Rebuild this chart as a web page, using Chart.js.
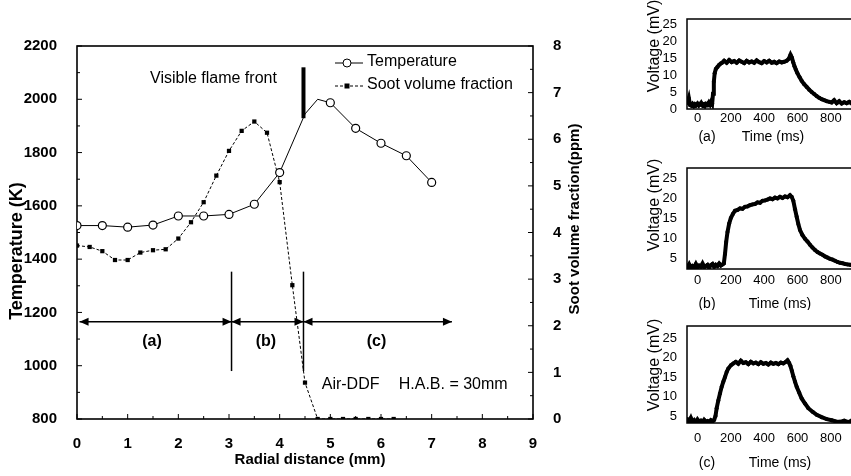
<!DOCTYPE html>
<html><head><meta charset="utf-8">
<script src="https://cdn.jsdelivr.net/npm/chart.js@4.4.0/dist/chart.umd.min.js"></script>
<style>
html,body{margin:0;padding:0;overflow:hidden;background:#fff;width:851px;height:476px;position:relative;}
canvas{position:absolute;}
</style></head><body>
<canvas id="main" width="600" height="476" style="left:0;top:0;width:600px;height:476px"></canvas>
<canvas id="insA" width="290" height="150" style="left:600px;top:0;width:290px;height:150px"></canvas>
<canvas id="insB" width="290" height="160" style="left:600px;top:150px;width:290px;height:160px"></canvas>
<canvas id="insC" width="290" height="166" style="left:600px;top:310px;width:290px;height:166px"></canvas>
<script>
// ---------- main chart data ----------
const radialTemp   = [0, 0.5, 1, 1.5, 2, 2.5, 3, 3.5, 4, 4.5, 4.75, 5, 5.5, 6, 6.5, 7];
const temperatureK = [1526, 1526, 1520, 1528, 1562, 1562, 1568, 1606, 1725, 1945, 2000, 1987, 1891, 1835, 1788, 1688];
const radialSoot   = [0, 0.25, 0.5, 0.75, 1, 1.25, 1.5, 1.75, 2, 2.25, 2.5, 2.75, 3, 3.25, 3.5, 3.75, 4, 4.25, 4.5, 4.75, 5, 5.25, 5.5, 5.75, 6, 6.25];
const sootPpm      = [3.72, 3.69, 3.60, 3.41, 3.41, 3.57, 3.62, 3.64, 3.87, 4.22, 4.65, 5.22, 5.75, 6.18, 6.38, 6.14, 5.08, 2.87, 0.78, 0, 0, 0, 0, 0, 0, 0];
const hiddenTempMarkers = [9, 10];
const flameFrontX = 4.47;
const flameFrontT = [1929, 2120];
const zoneBounds  = [0.05, 3.05, 4.47, 7.4];
const zoneArrowT  = 1165;
const zoneLineT   = [980, 1353];
const zoneLabels  = ['(a)', '(b)', '(c)'];
const zoneLabelX  = [1.48, 3.73, 5.91];
const zoneLabelT  = 1090;

// ---------- inset data (time ms, voltage mV) ----------
const timeA = [-60,-52,-45,-38,-30,-22,-15,-8,0,8,15,22,30,38,45,52,60,68,75,82,88,93,98,103,110,120,130,140,150,160,175,190,205,220,235,250,265,280,295,310,325,340,355,370,385,400,415,430,445,460,475,490,505,520,535,548,558,566,574,582,590,600,612,625,640,655,670,685,700,715,730,745,760,775,790,805,820,835,850,865,880,895,910,925,940];
const voltA = [1.8,3.2,1.2,1.0,1.5,0.9,1.4,1.1,1.6,1.0,1.3,1.8,1.1,1.4,0.9,1.5,1.2,1.9,1.3,2.2,1.6,4.5,8.0,10.5,11.8,12.4,13.0,13.4,13.7,14.2,13.6,14.4,13.8,14.1,13.6,14.3,13.9,13.5,14.2,13.7,14.0,13.6,14.3,13.8,13.5,14.1,13.7,14.2,13.6,13.9,13.5,14.0,13.7,13.9,14.2,14.8,16.0,15.2,13.8,12.6,11.6,10.5,9.4,8.3,7.3,6.5,5.7,5.0,4.4,3.8,3.3,2.9,2.6,2.3,2.1,1.9,2.6,1.7,2.3,1.6,2.0,1.7,2.1,1.6,1.9];
const timeB = [-60,-50,-40,-30,-20,-10,0,10,20,30,40,50,60,70,80,90,100,110,120,130,140,150,158,165,172,180,190,200,212,225,240,255,270,285,300,315,330,345,360,375,390,405,420,435,450,465,480,495,510,525,540,555,565,575,585,595,605,615,630,645,660,675,690,705,720,735,750,765,780,795,810,825,840,855,870,885,900,915,930];
const voltB = [2.6,3.4,2.5,3.0,2.7,3.5,2.6,3.1,2.8,3.6,2.7,3.0,3.3,2.6,3.2,3.5,2.8,3.3,3.0,3.6,3.1,3.4,3.6,6.0,9.0,11.5,13.6,15.0,16.0,16.8,17.0,17.4,17.3,17.8,17.9,18.2,18.4,18.5,18.9,18.8,19.3,19.4,19.6,19.9,19.7,20.1,19.9,20.3,20.0,20.4,20.2,20.7,20.3,19.3,17.2,15.3,13.5,12.0,10.7,9.8,9.1,8.3,7.6,7.0,6.5,6.1,5.8,5.4,5.1,4.8,4.6,4.3,4.0,3.8,3.7,3.5,3.4,3.3,3.2];
const timeC = [-60,-50,-40,-30,-20,-10,0,10,20,30,40,50,60,70,80,90,100,108,115,125,135,145,155,165,175,185,200,215,230,245,260,275,290,305,320,335,350,365,380,395,410,425,440,455,470,485,500,515,530,540,550,558,566,575,585,595,610,625,645,665,690,715,745,775,805,830,855,880,905,930];
const voltC = [4.2,3.6,4.5,3.4,3.9,3.3,4.1,3.5,3.8,3.3,4.0,3.5,3.7,3.4,3.9,3.6,4.0,5.0,7.0,9.0,10.8,12.5,13.8,15.0,16.3,17.2,18.0,18.5,18.9,18.4,19.2,18.6,18.8,18.3,18.9,18.5,18.7,18.3,18.8,18.4,18.6,18.2,18.7,18.4,18.6,18.3,18.7,18.5,18.9,19.3,18.6,17.8,16.6,15.2,13.8,12.5,11.0,9.5,8.2,7.0,6.1,5.3,4.7,4.2,3.9,3.6,3.5,3.8,3.4,4.0];

Chart.defaults.font.family = "'Liberation Sans', Arial, Helvetica, sans-serif";
Chart.defaults.color = '#000';

const FONT = "'Liberation Sans', Arial, Helvetica, sans-serif";
const plain = v => String(v);
function txt(ctx, s, x, y, font, align, rot) {
  ctx.save();
  ctx.font = font; ctx.fillStyle = '#000';
  ctx.textAlign = align || 'left'; ctx.textBaseline = 'middle';
  ctx.translate(x, y);
  if (rot) ctx.rotate(rot);
  ctx.fillText(s, 0, 0);
  ctx.restore();
}
function seg(ctx, x1, y1, x2, y2) { ctx.beginPath(); ctx.moveTo(x1, y1); ctx.lineTo(x2, y2); ctx.stroke(); }

const xy = (xs, ys) => xs.map((v, i) => ({x: v, y: ys[i]}));

const mainDecor = {
  id: 'mainDecor',
  beforeDatasetsDraw(chart) {
    const {ctx, chartArea: a, scales: {x, y, y2}} = chart;
    ctx.save();
    ctx.strokeStyle = '#000';
    ctx.lineWidth = 1.6;
    ctx.strokeRect(a.left, a.top, a.right - a.left, a.bottom - a.top);
    ctx.lineWidth = 1;
    for (let i = 0; i <= 18; i++) { const px = x.getPixelForValue(i / 2); seg(ctx, px, a.bottom, px, a.bottom - (i % 2 ? 3 : 5)); }
    for (let i = 0; i <= 14; i++) { const py = y.getPixelForValue(800 + i * 100); seg(ctx, a.left, py, a.left + (i % 2 ? 3 : 5), py); }
    for (let i = 0; i <= 16; i++) { const py = y2.getPixelForValue(i / 2); seg(ctx, a.right, py, a.right - (i % 2 ? 3 : 5), py); }
    ctx.restore();
  },
  afterDraw(chart) {
    const {ctx, chartArea: a, scales: {x, y, y2}} = chart;
    const ay = y.getPixelForValue(zoneArrowT);
    const heads = [[zoneBounds[0], -1], [zoneBounds[1], 1], [zoneBounds[1], -1], [zoneBounds[2], 1], [zoneBounds[2], -1], [zoneBounds[3], 1]];
    ctx.save(); ctx.fillStyle = '#000';
    heads.forEach(([v, d]) => {
      const px = x.getPixelForValue(v);
      ctx.beginPath(); ctx.moveTo(px, ay); ctx.lineTo(px - d * 9, ay - 4); ctx.lineTo(px - d * 9, ay + 4); ctx.closePath(); ctx.fill();
    });
    ctx.restore();
    zoneLabels.forEach((s, i) => txt(ctx, s, x.getPixelForValue(zoneLabelX[i]), y.getPixelForValue(zoneLabelT), 'bold 16px ' + FONT, 'center'));
    txt(ctx, 'Visible flame front', 150, 79, '16px ' + FONT, 'left');
    txt(ctx, 'Air-DDF', x.getPixelForValue(4.83), y2.getPixelForValue(0.74), '16px ' + FONT, 'left');
    txt(ctx, 'H.A.B. = 30mm', x.getPixelForValue(6.35), y2.getPixelForValue(0.74), '16px ' + FONT, 'left');
    ctx.save(); ctx.strokeStyle = '#000'; ctx.lineWidth = 1;
    seg(ctx, 335, 63, 363, 63);
    ctx.fillStyle = '#fff'; ctx.beginPath(); ctx.arc(347, 63, 4, 0, Math.PI * 2); ctx.fill(); ctx.stroke();
    ctx.setLineDash([3, 2]); seg(ctx, 335, 86, 363, 86); ctx.setLineDash([]);
    ctx.fillStyle = '#000'; ctx.fillRect(344.5, 83.5, 5, 5);
    ctx.restore();
    txt(ctx, 'Temperature', 367, 62, '16px ' + FONT, 'left');
    txt(ctx, 'Soot volume fraction', 367, 85, '16px ' + FONT, 'left');
    txt(ctx, 'Radial distance (mm)', 310, 460, 'bold 15px ' + FONT, 'center');
    txt(ctx, 'Temperature (K)', 17, 251, 'bold 18px ' + FONT, 'center', -Math.PI / 2);
    txt(ctx, 'Soot volume fraction(ppm)', 575, 219, 'bold 15px ' + FONT, 'center', -Math.PI / 2);
  }
};

const tickFont = {size: 15, weight: 'bold'};
new Chart(document.getElementById('main'), {
  type: 'scatter',
  data: {
    datasets: [
      {data: xy(radialTemp, temperatureK), yAxisID: 'y', showLine: true, borderColor: '#000', borderWidth: 1,
       pointRadius: c => hiddenTempMarkers.includes(c.dataIndex) ? 0 : 4, pointBackgroundColor: '#fff', pointBorderColor: '#000', pointBorderWidth: 1.2},
      {data: xy(radialSoot, sootPpm), yAxisID: 'y2', showLine: true, borderColor: '#000', borderWidth: 1, borderDash: [3, 2],
       pointStyle: 'rect', pointRadius: 3, pointBackgroundColor: '#000', pointBorderColor: '#000', pointBorderWidth: 0},
      {data: xy([flameFrontX, flameFrontX], flameFrontT), yAxisID: 'y', showLine: true, borderColor: '#000', borderWidth: 4, pointRadius: 0},
      {data: xy([zoneBounds[1], zoneBounds[1]], zoneLineT), yAxisID: 'y', showLine: true, borderColor: '#000', borderWidth: 1.5, pointRadius: 0},
      {data: xy([zoneBounds[2], zoneBounds[2]], zoneLineT), yAxisID: 'y', showLine: true, borderColor: '#000', borderWidth: 1.5, pointRadius: 0},
      {data: xy([zoneBounds[0], zoneBounds[3]], [zoneArrowT, zoneArrowT]), yAxisID: 'y', showLine: true, borderColor: '#000', borderWidth: 1.5, pointRadius: 0}
    ]
  },
  options: {
    responsive: false, animation: false, events: [],
    layout: {padding: {top: 46, left: 0, right: 0, bottom: 0}},
    plugins: {legend: {display: false}, tooltip: {enabled: false}},
    scales: {
      x: {type: 'linear', position: 'bottom', min: 0, max: 9,
          ticks: {stepSize: 1, font: tickFont, color: '#000', padding: 8, maxRotation: 0, autoSkip: false, callback: plain},
          grid: {display: false}, border: {display: false}, afterFit(s) { s.height = 57; }},
      y: {type: 'linear', position: 'left', min: 800, max: 2200,
          ticks: {stepSize: 200, font: tickFont, color: '#000', padding: 12, autoSkip: false, callback: plain},
          grid: {display: false}, border: {display: false}, afterFit(s) { s.width = 77; }},
      y2: {type: 'linear', position: 'right', min: 0, max: 8,
          ticks: {stepSize: 1, font: tickFont, color: '#000', padding: 12, autoSkip: false, callback: plain},
          grid: {display: false}, border: {display: false}, afterFit(s) { s.width = 67; }}
    }
  },
  plugins: [mainDecor]
});

// ---------- insets ----------
function makeInset(id, offY, t, v, cfg) {
  const decor = {
    id: 'insDecor' + id,
    beforeDatasetsDraw(chart) {
      const {ctx, chartArea: a} = chart;
      ctx.save(); ctx.strokeStyle = '#000'; ctx.lineWidth = 1.5;
      ctx.strokeRect(a.left, a.top, a.right - a.left, a.bottom - a.top);
      ctx.restore();
    },
    afterDraw(chart) {
      const ctx = chart.ctx;
      txt(ctx, 'Voltage (mV)', 55, cfg.vTitleY - offY, '16px ' + FONT, 'center', -Math.PI / 2);
      txt(ctx, cfg.tag, 107, cfg.timeY - offY, '14px ' + FONT, 'center');
      txt(ctx, 'Time (ms)', cfg.timeX - 600, cfg.timeY - offY, '14px ' + FONT, 'center');
    }
  };
  return new Chart(document.getElementById(id), {
    type: 'scatter',
    data: {datasets: [{data: xy(t, v), showLine: true, borderColor: '#000', borderWidth: 4,
      pointRadius: 2, pointBackgroundColor: '#000', pointBorderWidth: 0}]},
    options: {
      responsive: false, animation: false, events: [],
      layout: {padding: {top: cfg.top, right: 27.5, left: 0, bottom: 0}},
      plugins: {legend: {display: false}, tooltip: {enabled: false}},
      scales: {
        x: {type: 'linear', min: -63, max: 990,
            ticks: {stepSize: 200, font: {size: 13}, color: '#000', padding: cfg.xpad, maxRotation: 0, autoSkip: false, includeBounds: false, callback: plain},
            grid: {display: false}, border: {display: false}, afterFit(s) { s.height = cfg.axisH; }},
        y: {type: 'linear', min: cfg.ymin, max: cfg.ymax,
            ticks: {stepSize: 5, font: {size: 13}, color: '#000', padding: 2, autoSkip: false, includeBounds: false, callback: plain},
            grid: {display: false}, border: {display: false}, afterFit(s) { s.width = 87; }}
      }
    },
    plugins: [decor]
  });
}
makeInset('insA', 0, timeA, voltA, {top: 19, axisH: 41, xpad: -6, ymin: 0, ymax: 26.5, vTitleY: 46, tag: '(a)', timeX: 773, timeY: 137});
makeInset('insB', 150, timeB, voltB, {top: 18, axisH: 41, xpad: -4, ymin: 2.25, ymax: 27.5, vTitleY: 205, tag: '(b)', timeX: 780, timeY: 304});
makeInset('insC', 310, timeC, voltC, {top: 16, axisH: 53, xpad: 0, ymin: 3.2, ymax: 28.1, vTitleY: 365, tag: '(c)', timeX: 780, timeY: 463});
</script>
</body></html>
